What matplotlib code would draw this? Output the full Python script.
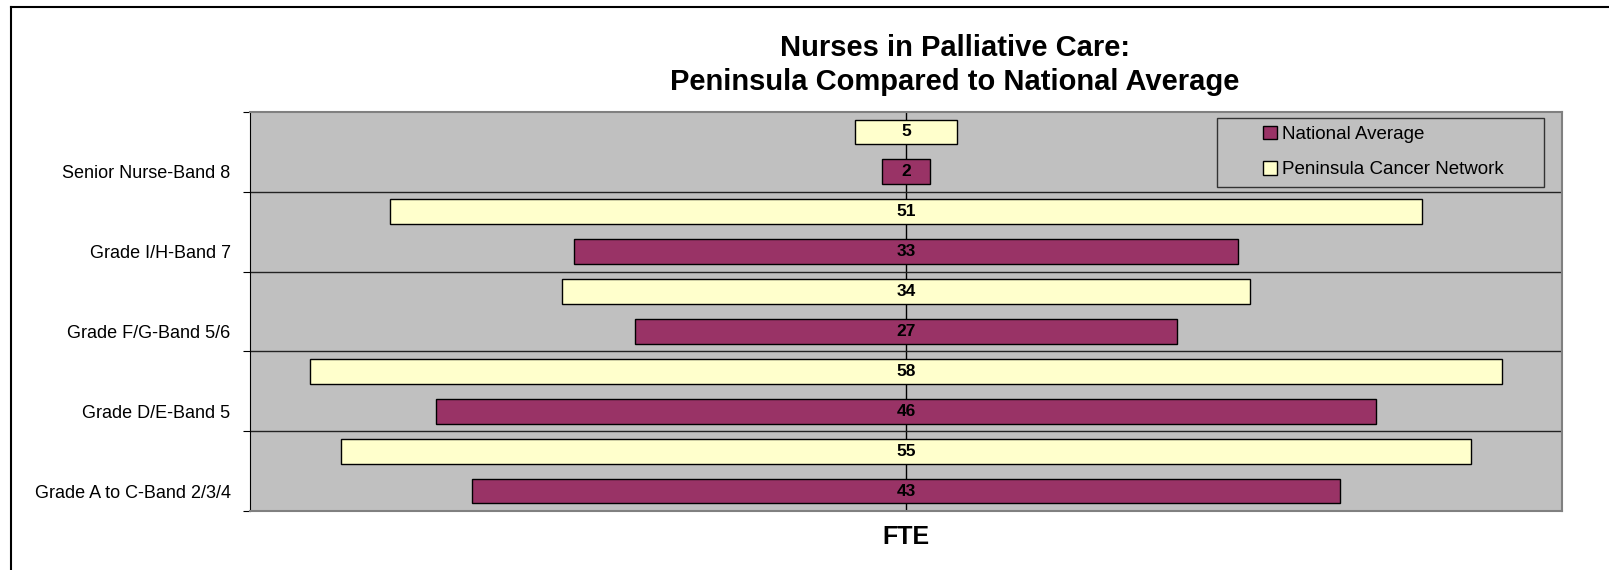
import matplotlib
matplotlib.use("Agg")
import matplotlib.pyplot as plt
import numpy as np
from matplotlib.lines import Line2D
from matplotlib.patches import Patch, Rectangle

plt.rcParams['font.family'] = ['Liberation Sans', 'DejaVu Sans']

# data, listed bottom to top
categories = ["Grade A to C-Band 2/3/4", "Grade D/E-Band 5", "Grade F/G-Band 5/6",
              "Grade I/H-Band 7", "Senior Nurse-Band 8"]
peninsula = [55.4, 58.4, 33.7, 50.6, 5.0]
national = [42.6, 46.1, 26.6, 32.6, 2.4]

yellow = "#FFFFCC"
purple = "#993366"
grey = "#C0C0C0"

fig = plt.figure(figsize=(16.09, 5.70), dpi=100)
ax = fig.add_axes([250 / 1609, 1 - 511 / 570, 1312 / 1609, 399 / 570])
ax.set_facecolor(grey)

y = np.arange(len(categories))
pen = np.array(peninsula)
nat = np.array(national)

# centre line under the bars
ax.axvline(0, color="black", lw=1, zorder=1)

# band separators
for b in y[:-1] + 0.5:
    ax.axhline(b, color="#222222", lw=1, zorder=1)

h = 0.31
ax.barh(y + 0.25, pen, left=-pen / 2, height=h, color=yellow,
        edgecolor="black", lw=1, zorder=2)
ax.barh(y - 0.25, nat, left=-nat / 2, height=h, color=purple,
        edgecolor="black", lw=1, zorder=2)

for i in range(len(categories)):
    ax.text(0, y[i] + 0.25, "%.0f" % pen[i], ha="center", va="center",
            fontsize=12.5, fontweight="bold", zorder=3)
    ax.text(0, y[i] - 0.25, "%.0f" % nat[i], ha="center", va="center",
            fontsize=12.5, fontweight="bold", zorder=3)

ax.set_xlim(-32.16, 32.16)
ax.set_ylim(-0.5, len(categories) - 0.5)
ax.set_xticks([])

# ticks at band edges, labels lined up with the lower bar
ax.set_yticks(np.arange(-0.5, len(categories), 1.0))
ax.set_yticklabels([])
ax.tick_params(axis="y", which="major", length=5, color="black")
ax.set_yticks(y - 0.25, minor=True)
ax.set_yticklabels(categories, minor=True, fontsize=13)
ax.tick_params(axis="y", which="minor", length=0, pad=14)

for s in ["top", "right", "bottom"]:
    ax.spines[s].set_color("#808080")
    ax.spines[s].set_linewidth(1.5)
ax.spines["left"].set_color("black")

ax.set_xlabel("FTE", fontsize=18, fontweight="bold", labelpad=10)

fig.text(955 / 1609, 1 - 65 / 570, "Nurses in Palliative Care:\nPeninsula Compared to National Average",
         ha="center", va="center", fontsize=21, fontweight="bold", linespacing=1.28)

# legend box drawn separately so the entries sit centred with wide side padding
box = Rectangle((1217 / 1609, 1 - 187 / 570), 327 / 1609, 69 / 570,
                transform=fig.transFigure, facecolor=grey, edgecolor="#333333",
                lw=1, zorder=4)
fig.add_artist(box)
handles = [Patch(facecolor=purple, edgecolor="black"),
           Patch(facecolor=yellow, edgecolor="black")]
leg = fig.legend(handles, ["National Average", "Peninsula Cancer Network"],
                 loc="center", bbox_to_anchor=(1383 / 1609, 1 - 152 / 570),
                 fontsize=13.5, frameon=False,
                 handlelength=0.75, handleheight=0.75, handletextpad=0.25,
                 borderpad=0, labelspacing=0.95, borderaxespad=0)
leg.set_zorder(5)

# outer chart border (only left and top fall inside the image)
fig.add_artist(Line2D([11 / 1609, 11 / 1609], [0, 1 - 7 / 570], color="black", lw=1.5,
                      transform=fig.transFigure))
fig.add_artist(Line2D([11 / 1609, 1], [1 - 7 / 570, 1 - 7 / 570], color="black", lw=1.5,
                      transform=fig.transFigure))

fig.savefig("out.png", dpi=100)
